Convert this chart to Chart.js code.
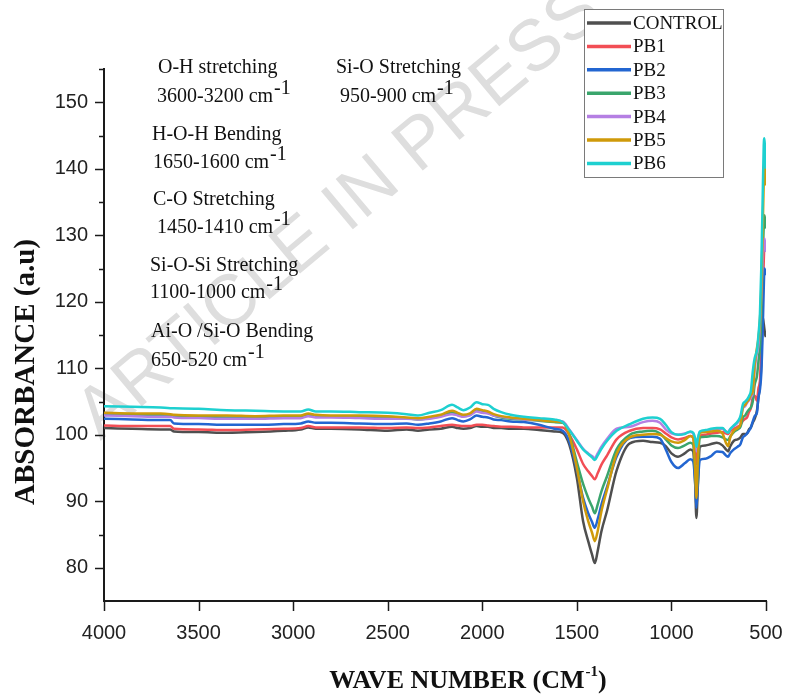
<!DOCTYPE html>
<html>
<head>
<meta charset="utf-8">
<script src="https://cdn.jsdelivr.net/npm/chart.js@4.4.1/dist/chart.umd.min.js"></script>
<style>
  html, body { margin: 0; padding: 0; background: #fff; }
  #wrap { width: 787px; height: 695px; }
</style>
</head>
<body>
<div id="wrap"><canvas id="ftir" width="787" height="695"></canvas></div>
<script>
// FTIR spectra: wave number (cm-1) against absorbance
const waveNumbers = [4000, 3850, 3700, 3650, 3630, 3500, 3350, 3200, 3050, 2960,
  2920, 2880, 2800, 2650, 2500, 2400, 2340, 2280, 2220, 2160,
  2130, 2100, 2065, 2030, 2000, 1970, 1940, 1900, 1850, 1780,
  1700, 1620, 1575, 1540, 1500, 1467, 1440, 1420, 1405, 1390,
  1370, 1340, 1290, 1220, 1150, 1100, 1060, 1030, 1000, 965,
  930, 900, 885, 875, 868, 860, 850, 820, 790, 760,
  730, 712, 700, 690, 670, 650, 635, 622, 610, 600,
  590, 580, 570, 560, 548, 540, 532, 525, 518, 512,
  508, 504, 500];

const control = [101.0, 100.9, 100.8, 100.8, 100.5, 100.4, 100.3, 100.4, 100.6, 100.8,
  101.1, 100.9, 100.9, 100.8, 100.6, 100.8, 100.6, 100.8, 100.9, 101.2,
  101.0, 100.9, 101.0, 101.3, 101.2, 101.2, 101.0, 101.0, 100.9, 100.9,
  100.7, 100.5, 100.3, 98.5, 93.5, 87.0, 84.0, 82.0, 80.7, 82.5,
  85.5, 88.6, 94.6, 98.7, 99.1, 98.9, 98.8, 98.3, 97.2, 96.7,
  97.2, 97.8, 97.5, 93.0, 87.5, 92.5, 98.2, 98.4, 98.6, 98.8,
  98.4, 97.8, 97.5, 98.2, 99.1, 99.3, 99.6, 100.1, 100.1, 100.2,
  100.8, 101.1, 101.8, 102.4, 103.6, 105.6, 107.5, 110.5, 117.7, 116.7,
  115.8, 115.0, 114.7];

const pb1 = [101.4, 101.3, 101.3, 101.3, 100.9, 100.8, 100.7, 100.8, 100.9, 101.0,
  101.3, 101.1, 101.1, 101.1, 101.0, 101.1, 101.0, 101.1, 101.3, 101.5,
  101.4, 101.3, 101.3, 101.5, 101.5, 101.4, 101.3, 101.2, 101.2, 101.1,
  101.1, 101.1, 101.1, 100.0, 97.8, 95.6, 94.5, 93.8, 93.3, 94.2,
  95.5, 96.9, 99.3, 100.6, 101.0, 101.0, 100.8, 100.2, 99.6, 99.3,
  99.5, 99.8, 99.6, 97.5, 95.6, 98.3, 99.8, 100.0, 100.2, 100.3,
  100.4, 100.2, 100.1, 100.5, 100.9, 101.2, 101.5, 102.1, 102.4, 102.6,
  103.4, 104.0, 105.6, 105.9, 105.1, 107.0, 108.1, 113.0, 120.0, 126.0,
  128.5, 128.0, 127.5];

const pb2 = [102.4, 102.3, 102.2, 102.2, 101.7, 101.6, 101.5, 101.5, 101.6, 101.7,
  102.0, 101.8, 101.8, 101.7, 101.6, 101.7, 101.5, 101.7, 102.0, 102.5,
  102.2, 102.0, 102.3, 102.9, 102.7, 102.6, 102.3, 102.2, 102.0, 101.9,
  101.5, 100.9, 100.6, 99.0, 94.7, 90.5, 88.2, 86.9, 86.0, 87.3,
  89.5, 92.2, 96.7, 99.5, 99.7, 99.7, 99.4, 97.8, 95.9, 95.0,
  95.7, 96.3, 96.0, 93.0, 89.0, 92.8, 96.2, 96.4, 96.8, 97.5,
  97.4, 96.9, 96.7, 97.2, 97.8, 98.2, 98.6, 99.6, 99.9, 100.2,
  100.6, 101.1, 102.0, 102.8, 103.3, 105.6, 106.8, 109.2, 115.0, 122.0,
  125.0, 124.5, 124.0];

const pb3 = [103.1, 103.0, 103.0, 102.9, 102.8, 102.7, 102.6, 102.6, 102.7, 102.8,
  103.0, 102.8, 102.8, 102.7, 102.6, 102.5, 102.3, 102.5, 102.8, 103.4,
  103.0, 102.8, 103.0, 103.7, 103.5, 103.3, 102.9, 102.6, 102.4, 102.3,
  102.1, 101.9, 101.8, 100.1, 95.9, 92.6, 90.5, 89.2, 88.2, 89.5,
  91.5, 93.8, 97.8, 100.0, 100.5, 100.6, 100.2, 99.3, 98.4, 98.0,
  98.4, 98.8, 98.5, 95.0, 91.5, 95.5, 99.6, 99.7, 99.8, 99.8,
  99.6, 99.3, 99.2, 99.7, 100.4, 100.8, 101.2, 102.6, 102.9, 103.4,
  103.8, 104.1, 105.0, 107.5, 108.8, 111.0, 113.2, 118.0, 126.0, 131.5,
  133.0, 132.0, 131.0];

const pb4 = [102.9, 102.8, 102.7, 102.7, 102.6, 102.5, 102.4, 102.4, 102.5, 102.5,
  102.8, 102.6, 102.6, 102.5, 102.4, 102.4, 102.3, 102.4, 102.7, 103.1,
  102.9, 102.7, 102.9, 103.5, 103.3, 103.2, 102.9, 102.7, 102.5, 102.3,
  102.2, 102.1, 102.0, 100.8, 99.2, 97.9, 97.2, 96.8, 96.5, 97.2,
  98.2, 99.4, 100.9, 101.2, 101.9, 102.1, 101.8, 100.8, 100.2, 100.0,
  100.2, 100.4, 100.2, 99.0, 97.5, 99.2, 100.4, 100.6, 100.8, 100.9,
  100.9, 100.5, 100.4, 100.8, 101.3, 101.8, 102.6, 104.0, 104.3, 104.8,
  105.2, 105.6, 106.3, 109.8, 112.3, 113.5, 116.5, 121.0, 126.0, 129.0,
  129.5, 128.5, 127.5];

const pb5 = [103.3, 103.2, 103.2, 103.1, 103.0, 102.9, 102.9, 102.8, 102.9, 102.9,
  103.2, 103.0, 102.9, 102.9, 102.8, 102.6, 102.5, 102.7, 103.0, 103.6,
  103.3, 103.0, 103.2, 103.9, 103.7, 103.5, 103.1, 102.8, 102.6, 102.4,
  102.2, 102.0, 101.9, 99.9, 95.0, 90.0, 87.0, 85.3, 84.0, 85.5,
  88.5, 91.8, 97.1, 99.6, 100.0, 100.1, 100.0, 99.5, 99.0, 98.8,
  99.2, 99.8, 99.5, 95.0, 90.5, 96.5, 100.3, 100.4, 100.5, 100.6,
  100.2, 98.8, 98.3, 99.5, 100.6, 101.0, 101.6, 104.1, 104.5, 105.0,
  105.3, 106.0, 106.5, 110.5, 113.0, 114.5, 117.2, 122.0, 130.0, 138.0,
  141.0, 139.0, 137.5];

const pb6 = [104.3, 104.2, 104.1, 104.0, 104.0, 103.9, 103.7, 103.6, 103.5, 103.5,
  103.8, 103.5, 103.5, 103.4, 103.3, 103.1, 102.9, 103.3, 103.7, 104.5,
  104.1, 103.7, 104.1, 104.9, 104.6, 104.5, 103.9, 103.4, 103.0, 102.7,
  102.5, 102.3, 101.9, 100.7, 99.1, 97.8, 97.1, 96.6, 96.2, 96.9,
  97.9, 99.1, 100.6, 101.6, 102.4, 102.6, 102.4, 101.5, 100.4, 100.0,
  100.1, 100.5, 100.3, 99.5, 98.2, 99.5, 100.5, 100.7, 100.9, 101.0,
  101.0, 100.5, 100.3, 100.8, 101.4, 102.0, 102.8, 104.6, 105.0, 105.3,
  105.8, 106.6, 109.5, 111.5, 112.7, 115.0, 118.2, 125.0, 135.0, 143.5,
  144.6, 142.0, 140.0];

const seriesNames = ['CONTROL', 'PB1', 'PB2', 'PB3', 'PB4', 'PB5', 'PB6'];
const seriesValues = [control, pb1, pb2, pb3, pb4, pb5, pb6];
const seriesColors = ['#4f4f4f', '#f24e55', '#2366d1', '#3aa56c', '#b57fe3', '#cf9a0a', '#1ed0d0'];

const bandNames = ['O-H stretching', 'Si-O Stretching', 'H-O-H Bending', 'C-O Stretching',
  'Si-O-Si Stretching', 'Ai-O /Si-O Bending'];
const bandRanges = ['3600-3200', '950-900', '1650-1600', '1450-1410', '1100-1000', '650-520'];

const serif = '"Liberation Serif", "Times New Roman", serif';
const sans = '"Liberation Sans", Arial, sans-serif';

// text followed by a raised "-1"
function textWithSup(ctx, x, y, base, sup, font, supFont, rise) {
  ctx.font = font;
  ctx.fillText(base, x, y);
  const w = ctx.measureText(base).width;
  ctx.font = supFont;
  ctx.fillText(sup, x + w + 1, y - rise);
  return w + 1 + ctx.measureText(sup).width;
}

const backdrop = {
  id: 'backdrop',
  beforeDraw(chart) {
    const ctx = chart.ctx;
    ctx.save();
    ctx.fillStyle = '#fff';
    ctx.fillRect(0, 0, chart.width, chart.height);
    ctx.translate(340, 214);
    ctx.rotate(-40 * Math.PI / 180);
    ctx.fillStyle = '#dedede';
    ctx.font = '72px ' + sans;
    ctx.textAlign = 'center';
    ctx.textBaseline = 'middle';
    ctx.fillText('ARTICLE IN PRESS', 0, 0);
    ctx.restore();
  }
};

const decorations = {
  id: 'decorations',
  afterDraw(chart) {
    const { ctx, scales: { x, y }, chartArea: a } = chart;
    ctx.save();

    // tick marks: long at labelled values, short in between
    ctx.strokeStyle = '#1a1a1a';
    ctx.lineWidth = 1.5;
    y.ticks.forEach(t => {
      if (t.value < 80) return;
      const py = Math.round(y.getPixelForValue(t.value)) + 0.5;
      const len = t.value % 10 === 0 ? 9 : 5;
      ctx.beginPath();
      ctx.moveTo(a.left, py);
      ctx.lineTo(a.left - len, py);
      ctx.stroke();
    });
    x.ticks.forEach(t => {
      const px = Math.round(x.getPixelForValue(t.value)) + 0.5;
      ctx.beginPath();
      ctx.moveTo(px, a.bottom);
      ctx.lineTo(px, a.bottom + 10);
      ctx.stroke();
    });

    // axis titles
    ctx.fillStyle = '#111';
    ctx.textBaseline = 'middle';
    ctx.save();
    ctx.translate(27, 372);
    ctx.rotate(-Math.PI / 2);
    ctx.textAlign = 'center';
    ctx.font = 'bold 29px ' + serif;
    ctx.fillText('ABSORBANCE (a.u)', 0, 0);
    ctx.restore();

    ctx.textAlign = 'left';
    const xFont = 'bold 26px ' + serif, supFont = 'bold 15px ' + serif;
    ctx.font = xFont;
    const w1 = ctx.measureText('WAVE NUMBER (CM').width;
    ctx.font = supFont;
    const w2 = ctx.measureText('-1').width;
    ctx.font = xFont;
    const w3 = ctx.measureText(')').width;
    const tx = 468 - (w1 + w2 + w3 + 1) / 2;
    textWithSup(ctx, tx, 681, 'WAVE NUMBER (CM', '-1', xFont, supFont, 9);
    ctx.font = xFont;
    ctx.fillText(')', tx + w1 + 1 + w2, 681);

    // band assignments
    const place = [[158, 68, 157, 97], [336, 68, 340, 97], [152, 135, 153, 163],
      [153, 200, 157, 228], [150, 266, 150, 293], [151, 332, 151, 361]];
    const bodyFont = '20px ' + serif;
    bandNames.forEach((name, i) => {
      const [nx, ny, rx, ry] = place[i];
      ctx.font = bodyFont;
      ctx.fillText(name, nx, ny);
      textWithSup(ctx, rx, ry, bandRanges[i] + ' cm', '-1', bodyFont, '20px ' + serif, 8);
    });

    // legend box
    const lx = 584, ly = 9, lw = 139, lh = 168;
    ctx.fillStyle = '#fff';
    ctx.fillRect(lx, ly, lw, lh);
    ctx.strokeStyle = '#7a7a7a';
    ctx.lineWidth = 1;
    ctx.strokeRect(lx + 0.5, ly + 0.5, lw, lh);
    ctx.font = '19px ' + serif;
    seriesNames.forEach((name, i) => {
      const ry = 23 + i * 23.4;
      ctx.strokeStyle = seriesColors[i];
      ctx.lineWidth = 3.5;
      ctx.beginPath();
      ctx.moveTo(587, ry);
      ctx.lineTo(631, ry);
      ctx.stroke();
      ctx.fillStyle = '#111';
      ctx.fillText(name, 633, ry + 1);
    });

    ctx.restore();
  }
};

const datasets = seriesNames.map((name, i) => ({
  label: name,
  data: waveNumbers.map((w, j) => ({ x: w, y: seriesValues[i][j] })),
  borderColor: seriesColors[i],
  borderWidth: 2.5,
  pointRadius: 0,
  cubicInterpolationMode: 'monotone',
  order: seriesNames.length - i
}));

new Chart(document.getElementById('ftir'), {
  type: 'line',
  data: { datasets },
  options: {
    responsive: false,
    animation: false,
    layout: { padding: { top: 69, right: 21, left: 0, bottom: 0 } },
    plugins: { legend: { display: false }, tooltip: { enabled: false } },
    scales: {
      x: {
        type: 'linear', reverse: true, min: 500, max: 4000,
        grid: { display: false, drawTicks: false },
        border: { display: true, color: '#1a1a1a', width: 2 },
        ticks: {
          stepSize: 500, padding: 20, color: '#222', maxRotation: 0, autoSkip: false,
          font: { family: sans, size: 20 },
          callback: v => String(v)
        },
        afterFit: s => { s.height = 94; s.paddingLeft = 0; s.paddingRight = 0; }
      },
      y: {
        min: 75, max: 155,
        grid: { display: false, drawTicks: false },
        border: { display: true, color: '#1a1a1a', width: 2 },
        ticks: {
          stepSize: 5, padding: 16, color: '#222', autoSkip: false,
          font: { family: sans, size: 20 },
          callback: v => (v % 10 === 0 && v >= 80 && v <= 150) ? String(v) : ''
        },
        afterFit: s => { s.width = 104; s.paddingTop = 0; s.paddingBottom = 0; }
      }
    }
  },
  plugins: [backdrop, decorations]
});
</script>
</body>
</html>
